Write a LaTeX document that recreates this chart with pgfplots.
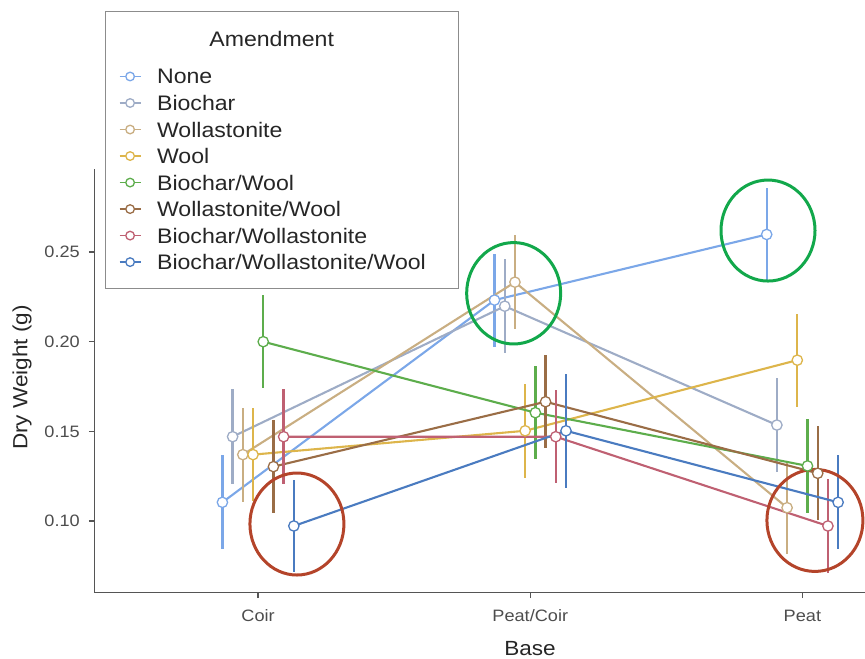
\documentclass[border=0pt]{standalone}
\usepackage{fontspec}
\setmainfont{Liberation Sans}[FakeStretch=1.1]
\usepackage{pgfplots}
\pgfplotsset{compat=1.18}
\definecolor{cNone}{HTML}{7BA7E8}
\definecolor{cBio}{HTML}{9EACC6}
\definecolor{cWol}{HTML}{C9AE82}
\definecolor{cWool}{HTML}{DDB54B}
\definecolor{cBW}{HTML}{5DAD4C}
\definecolor{cWW}{HTML}{9A6D46}
\definecolor{cBWo}{HTML}{BF6072}
\definecolor{cBWW}{HTML}{4A7BC0}
\definecolor{cGreen}{HTML}{12A84B}
\definecolor{cRed}{HTML}{B4442A}
\definecolor{axgray}{HTML}{555555}
\definecolor{tickgray}{HTML}{4D4D4D}
\definecolor{titlegray}{HTML}{262626}
\definecolor{leggray}{HTML}{8C8C8C}
\newcommand\ls{\rule[-4bp]{0pt}{19bp}}
\pgfplotsset{ser/.style={color=#1, line width=2.1bp, mark=*, mark size=5.2bp,
  mark options={fill=white, line width=1.3bp, solid},
  /pgfplots/error bars/y dir=both, /pgfplots/error bars/y explicit,
  /pgfplots/error bars/error mark=none,
  /pgfplots/error bars/error bar style={line width=2.3bp, color=#1}}}
\begin{document}
\begin{tikzpicture}
\begin{axis}[
  at={(0,0)}, anchor=south west,
  scale only axis, width=770.7bp, height=423.1bp,
  xmin=-0.602, xmax=2.230, ymin=0.0601, ymax=0.2961,
  axis lines*=left,
  axis line style={axgray, line width=1.3bp},
  xtick={0,1,2}, xticklabels={Coir,Peat/Coir,Peat},
  ytick={0.10,0.15,0.20,0.25},
  tick align=outside, major tick length=5.5bp,
  tick style={axgray, line width=1.3bp},
  minor tick num=0,
  /pgf/number format/assume math mode=true,
  yticklabel style={/pgf/number format/fixed, /pgf/number format/fixed zerofill,
    /pgf/number format/precision=2, font=\fontsize{16.5bp}{19bp}\selectfont,
    text=tickgray, anchor=east, inner sep=0pt, xshift=-8.8bp},
  xticklabel style={font=\fontsize{16.5bp}{19bp}\selectfont, text=tickgray,
    anchor=base, inner sep=0pt, yshift=-23.3bp},
  xlabel={Base}, ylabel={Dry Weight (g)},
  xlabel style={at={(axis description cs:0.5653,-0.1489)}, anchor=base,
    font=\fontsize{20.5bp}{24bp}\selectfont, text=titlegray, inner sep=0pt},
  ylabel style={at={(axis description cs:-0.0869,0.5082)}, anchor=base,
    font=\fontsize{20.5bp}{24bp}\selectfont, text=titlegray, inner sep=0pt},
  clip=false,
  legend style={at={(axis description cs:0.01388,1.3744)}, anchor=north west,
    draw=leggray, line width=1bp, fill=white, inner xsep=13.3bp, inner ysep=14.5bp,
    row sep=7.3bp, column sep=15.7bp, font=\fontsize{21bp}{25bp}\selectfont,
    text=titlegray, cells={anchor=base west}, nodes={inner sep=0pt, text depth=}},
  legend image code/.code={\draw[mark repeat=2,mark phase=2,#1,line width=1.6bp,mark size=4.3bp]
    plot coordinates {(-10.5bp,7.5bp) (0bp,7.5bp) (10.5bp,7.5bp)};},
]
\addlegendimage{empty legend}
\addlegendentry{\makebox[287.7bp][l]{\hspace{52.3bp}Amendment}\rule[-14.7bp]{0pt}{35.7bp}}

\addplot[ser=cNone] table[x=x,y=y,y error=e]{
x y e
-0.13125 0.1104 0.0263
0.86875 0.2232 0.0259
1.86875 0.2598 0.0260
};
\addlegendentry{None\ls}

\addplot[ser=cBio] table[x=x,y=y,y error=e]{
x y e
-0.09375 0.1470 0.0264
0.90625 0.2198 0.0262
1.90625 0.1535 0.0260
};
\addlegendentry{Biochar\ls}

\addplot[ser=cWol] table[x=x,y=y,y error=e]{
x y e
-0.05625 0.1370 0.0262
0.94375 0.2332 0.0263
1.94375 0.1074 0.0260
};
\addlegendentry{Wollastonite\ls}

\addplot[ser=cWool] table[x=x,y=y,y error=e]{
x y e
-0.01875 0.1370 0.0260
0.98125 0.1503 0.0262
1.98125 0.1897 0.0260
};
\addlegendentry{Wool\ls}

\addplot[ser=cBW] table[x=x,y=y,y error=e]{
x y e
0.01875 0.2000 0.0260
1.01875 0.1604 0.0260
2.01875 0.1307 0.0260
};
\addlegendentry{Biochar/Wool\ls}

\addplot[ser=cWW] table[x=x,y=y,y error=e]{
x y e
0.05625 0.1303 0.0260
1.05625 0.1665 0.0260
2.05625 0.1266 0.0262
};
\addlegendentry{Wollastonite/Wool\ls}

\addplot[ser=cBWo] table[x=x,y=y,y error=e]{
x y e
0.09375 0.1470 0.0264
1.09375 0.1470 0.0260
2.09375 0.0972 0.0262
};
\addlegendentry{Biochar/Wollastonite\ls}

\addplot[ser=cBWW] table[x=x,y=y,y error=e]{
x y e
0.13125 0.0972 0.0257
1.13125 0.1503 0.0317
2.13125 0.1104 0.0263
};
\addlegendentry{Biochar/Wollastonite/Wool\ls}

\draw[cGreen, line width=3bp] (axis cs:0.939,0.2270) ellipse [x radius=47bp, y radius=50.7bp];
\draw[cGreen, line width=3bp] (axis cs:1.8736,0.2620) ellipse [x radius=47bp, y radius=50.5bp];
\draw[cRed, line width=3bp] (axis cs:0.1426,0.0983) ellipse [x radius=47bp, y radius=51bp];
\draw[cRed, line width=3bp] (axis cs:2.046,0.1003) ellipse [x radius=48bp, y radius=51bp];
\end{axis}
\pgfresetboundingbox
\path (-94.3bp,-66.5bp) rectangle (770.7bp,592.5bp);
\end{tikzpicture}
\end{document}
